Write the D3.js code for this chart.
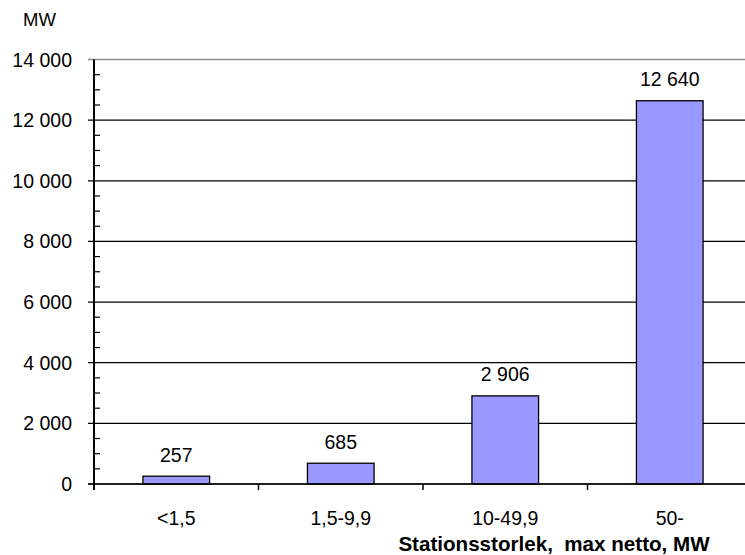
<!DOCTYPE html>
<html>
<head>
<meta charset="utf-8">
<script src="https://cdn.jsdelivr.net/npm/d3@7"></script>
<style>
  html, body { margin: 0; padding: 0; background: #fff; }
  svg { display: block; font-family: "Liberation Sans", Arial, sans-serif; }
</style>
</head>
<body>
<svg id="chart" width="745" height="555"></svg>
<script>
// Installed capacity per station size class
const categories = ["<1,5", "1,5-9,9", "10-49,9", "50-"];
const values = [257, 685, 2906, 12640];
const labels = ["257", "685", "2 906", "12 640"];
const yTicks = [0, 2000, 4000, 6000, 8000, 10000, 12000, 14000];
const yMinorTicks = d3.range(0, 14001, 500);

const svg = d3.select("#chart");
const plotLeft = 94, plotRight = 752, plotTop = 59.5, plotBottom = 484;

const x = d3.scaleBand().domain(categories).range([plotLeft, plotRight]).padding(0);
const y = d3.scaleLinear().domain([0, 14000]).range([plotBottom, plotTop]);
const fmt = v => d3.format(",")(v).replace(/,/g, " ");

// Horizontal gridlines (top border in grey)
svg.append("g").selectAll("line").data(yTicks).join("line")
  .attr("x1", plotLeft - 6).attr("x2", plotRight)
  .attr("y1", d => y(d)).attr("y2", d => y(d))
  .attr("stroke", d => d === 14000 ? "#8c8c8c" : "#000")
  .attr("stroke-width", d => d === 14000 ? 1.5 : 1.2);

// Minor ticks inside the axis
svg.append("g").selectAll("line").data(yMinorTicks.filter(d => d % 2000 !== 0)).join("line")
  .attr("x1", plotLeft).attr("x2", plotLeft + 6)
  .attr("y1", d => y(d)).attr("y2", d => y(d))
  .attr("stroke", "#000").attr("stroke-width", 1.2);

// Y axis line
svg.append("line")
  .attr("x1", plotLeft).attr("x2", plotLeft)
  .attr("y1", plotTop).attr("y2", plotBottom + 6)
  .attr("stroke", "#000").attr("stroke-width", 2);

// Y tick labels
svg.append("g").selectAll("text").data(yTicks).join("text")
  .attr("x", 72).attr("y", d => y(d)).attr("dy", "0.36em")
  .attr("text-anchor", "end")
  .attr("font-size", 19.5).attr("fill", "#000")
  .text(fmt);

// Category separator ticks below the baseline
svg.append("g").selectAll("line").data(categories.slice(1)).join("line")
  .attr("x1", d => x(d)).attr("x2", d => x(d))
  .attr("y1", plotBottom).attr("y2", plotBottom + 6)
  .attr("stroke", "#000").attr("stroke-width", 1.5);

// Bars
const bw = x.bandwidth() * 0.405;
svg.append("g").selectAll("rect").data(values).join("rect")
  .attr("x", (d, i) => x(categories[i]) + x.bandwidth() / 2 - bw / 2)
  .attr("width", bw)
  .attr("y", d => y(d))
  .attr("height", d => plotBottom - y(d))
  .attr("fill", "#9999ff")
  .attr("stroke", "#000").attr("stroke-width", 1.3);

// Baseline
svg.append("line")
  .attr("x1", plotLeft - 6).attr("x2", plotRight)
  .attr("y1", plotBottom).attr("y2", plotBottom)
  .attr("stroke", "#000").attr("stroke-width", 1.3);

// Value labels above bars
svg.append("g").selectAll("text").data(values).join("text")
  .attr("x", (d, i) => x(categories[i]) + x.bandwidth() / 2)
  .attr("y", d => y(d) - 14.5)
  .attr("text-anchor", "middle")
  .attr("font-size", 19.5).attr("fill", "#000")
  .text((d, i) => labels[i]);

// Category labels
svg.append("g").selectAll("text").data(categories).join("text")
  .attr("x", d => x(d) + x.bandwidth() / 2)
  .attr("y", 525)
  .attr("text-anchor", "middle")
  .attr("font-size", 19.5).attr("fill", "#000")
  .text(d => d);

// Unit label
svg.append("text")
  .attr("x", 23).attr("y", 25.8)
  .attr("font-size", 18.5).attr("fill", "#000")
  .text("MW");

// Axis title
svg.append("text")
  .attr("x", 554).attr("y", 551)
  .attr("text-anchor", "middle")
  .attr("font-size", 20.6).attr("font-weight", "bold").attr("fill", "#000")
  .style("white-space", "pre")
  .text("Stationsstorlek,  max netto, MW");
</script>
</body>
</html>
